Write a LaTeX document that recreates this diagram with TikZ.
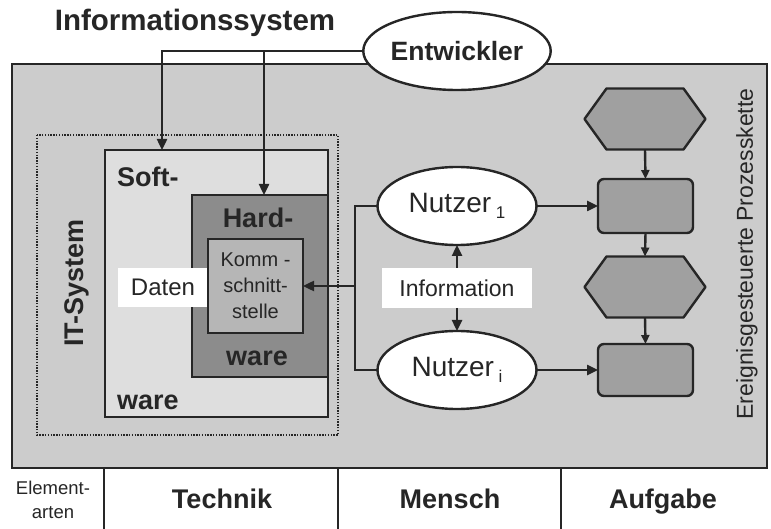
\documentclass[tikz,border=0pt]{standalone}
\usepackage{fontspec}
\setmainfont{Liberation Sans}
\usetikzlibrary{arrows.meta,calc,shapes.geometric}
\definecolor{ink}{RGB}{38,38,38}
\definecolor{bgray}{RGB}{204,204,204}
\definecolor{swgray}{RGB}{222,222,222}
\definecolor{hwgray}{RGB}{140,140,140}
\definecolor{kgray}{RGB}{182,182,182}
\definecolor{epkgray}{RGB}{160,160,160}
\newcommand{\fs}[2]{\fontsize{#1}{#2}\selectfont}
\newcommand{\sbs}[1]{\,\raisebox{-0.45ex}{\fs{17}{17}#1}}
\tikzset{
  line/.style={draw=ink, line width=2.4pt},
  arr/.style={line, -{Triangle[length=11pt,width=10pt]}},
  box/.style={line, outer sep=0pt, inner sep=0pt},
  ell/.style={line, ellipse, fill=white, minimum width=159, minimum height=78, inner sep=0pt, outer sep=0pt, text=ink},
  boldlbl/.style={font=\fs{27}{30}\bfseries, text=ink, inner sep=0pt},
  plainlbl/.style={font=\fs{23}{26}, text=ink, inner sep=0pt},
  whitebox/.style={fill=white, inner sep=0pt, outer sep=0pt, text=ink},
  hexslot/.style={inner sep=0pt, outer sep=0pt, minimum width=121, minimum height=61},
  epkbox/.style={line, fill=epkgray, rounded corners=6pt, minimum width=95, inner sep=0pt, outer sep=0pt},
}
\begin{document}
\begin{tikzpicture}[x=1pt, y=-1pt]
\useasboundingbox (0,0) rectangle (771,529);
\fill[white] (0,0) rectangle (771,529);

% outer frame of the information system
\draw[line, fill=bgray, line width=2.8pt] (12,64) rectangle (767,468);

% title
\node[boldlbl, font=\fs{29.5}{32}\bfseries] (title) at (195,23) {Informationssystem};

% IT system (dotted)
\draw[ink, line width=2.6pt, dash pattern=on 1.4pt off 1.4pt] (37,135) rectangle (338,435);
\node[boldlbl, rotate=90] (its) at (77,283) {IT-System};

% software, hardware, interface
\node[box, fill=swgray, minimum width=223, minimum height=267] (sw) at (216.5,283.5) {};
\node[box, fill=hwgray, minimum width=136, minimum height=182] (hw) at (260,286) {};
\node[whitebox, minimum width=90, minimum height=39] (daten) at (163,287.5) {\fs{24}{26}Daten};
\node[box, fill=kgray, minimum width=95, minimum height=94, align=center, font=\fs{20}{26}, text=ink] (komm) at (255.5,286) {Komm -\\schnitt-\\stelle};
\node[boldlbl, anchor=west] (soft) at (117,177) {Soft-};
\node[boldlbl, anchor=west] (swware) at (117,402) {ware};
\node[boldlbl] (hard) at (258,218) {Hard-};
\node[boldlbl] (hwware) at (257,358) {ware};

% actors
\node[ell, font=\fs{26.5}{28}\bfseries, minimum width=160] (ent) at (457,51) {Entwickler};
\node[ell, font=\fs{28}{28}] (n1) at (457,206) {Nutzer\sbs{1}};
\node[ell, font=\fs{28}{28}] (ni) at (457,370) {Nutzer\sbs{i}};
\node[whitebox, minimum width=150, minimum height=40, font=\fs{23}{26}] (info) at (457,288) {Information};

% developer arrows
\coordinate (swin) at ([xshift=57pt]sw.north west);
\coordinate (hwin) at ([xshift=4pt]hw.north);
\draw[arr] (ent.west) -| (swin);
\draw[arr] (hwin |- ent.west) -- (hwin);

% user connections
\coordinate (jn) at (355,286);
\draw[line] (n1.west) -| (jn) |- (ni.west);
\draw[arr] (jn) -- (komm.east);
\draw[arr] (info.north) -- (n1.south);
\draw[arr] (info.south) -- (ni.north);

% event-driven process chain
\node[hexslot] (e1) at (645,119) {};
\node[epkbox, minimum height=54] (f1) at (645.5,206) {};
\node[hexslot] (e2) at (645,287) {};
\node[epkbox, minimum height=52] (f2) at (645.5,370) {};
\foreach \h in {e1,e2}{
  \draw[line, fill=epkgray, line join=round]
    (\h.west) -- ([xshift=22pt]\h.north west) -- ([xshift=-22pt]\h.north east)
    -- (\h.east) -- ([xshift=-22pt]\h.south east) -- ([xshift=22pt]\h.south west) -- cycle;
}
\draw[arr, -{Triangle[length=9pt,width=8pt]}] (e1.south) -- (f1.north);
\draw[arr, -{Triangle[length=9pt,width=8pt]}] (f1.south) -- (e2.north);
\draw[arr, -{Triangle[length=9pt,width=8pt]}] (e2.south) -- (f2.north);
\draw[arr] (n1.east) -- (f1.west);
\draw[arr] (ni.east) -- (f2.west);
\node[plainlbl, rotate=90] (epk) at (747,254) {Ereignisgesteuerte Prozesskette};

% element types row
\coordinate (c1) at (104,468);
\coordinate (c2) at (338,468);
\coordinate (c3) at (561,468);
\foreach \c in {c1,c2,c3}{ \draw[line] (\c) -- ++(0,61); }
\node[text=ink, align=center, font=\fs{18.5}{24}, inner sep=0pt] (elem) at (53,500) {Element-\\arten};
\node[boldlbl, anchor=base] (tech) at (222,508) {Technik};
\node[boldlbl, anchor=base] (mensch) at (450,508) {Mensch};
\node[boldlbl, anchor=base] (aufg) at (663,508) {Aufgabe};
\end{tikzpicture}
\end{document}
